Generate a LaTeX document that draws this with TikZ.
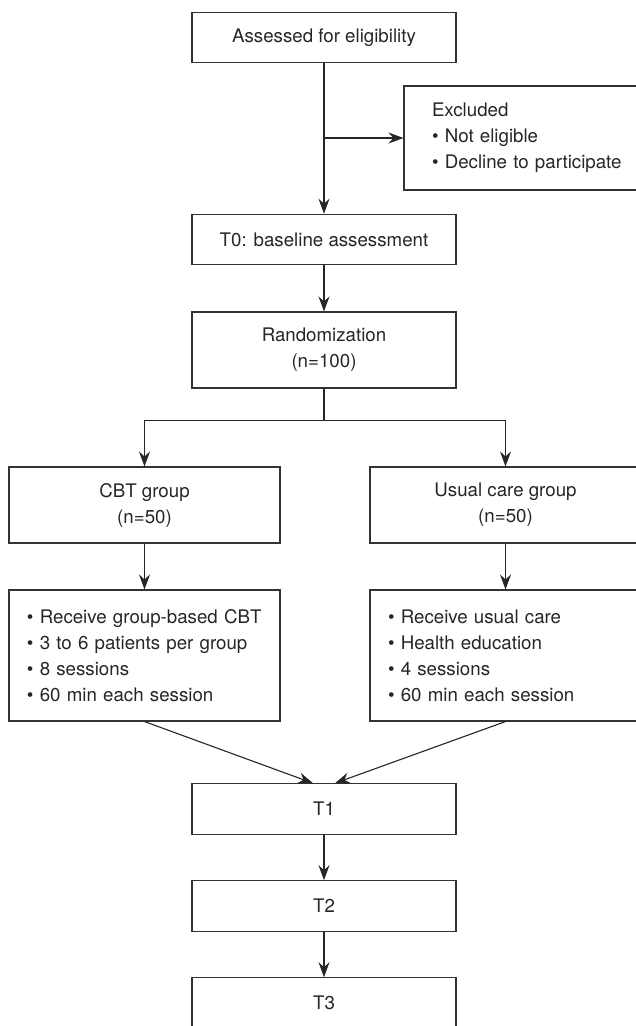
\documentclass[tikz,border=0pt]{standalone}
\usepackage{fontspec}
\setmainfont{TeX Gyre Heros}
\usetikzlibrary{arrows.meta, positioning}

\begin{document}
\begin{tikzpicture}[node distance=97pt, x=1pt, y=1pt]
			\tikzstyle{stage}=[
			rectangle, draw=black!80, line width=1.1pt, text=black!85,
			minimum width=264pt, minimum height=50.5pt,
			font=\fontsize{18.7}{26}\selectfont, align=center
			]
			\tikzstyle{group}=[stage, minimum width=271pt, minimum height=76pt]
			\tikzstyle{items}=[stage, align=left, inner sep=18pt, text width=235pt, minimum height=131pt]
			\tikzstyle{arr}=[draw=black!85, line width=1.1pt, -{Stealth[length=15pt, width=11pt, inset=5pt]}]
			
			\useasboundingbox (0,0) rectangle (636,-1026);
			
			\node[stage] (ae) at (324,-37.5) {Assessed for eligibility};
			\node[items, inner sep=16pt, text width=208pt, minimum height=104pt] (ex) at (536,-138) {Excluded\\\textbullet\ Not eligible\\\textbullet\ Decline to participate};
			\node[stage, below of=ae, yshift=-105pt] (t0) {T0: baseline assessment};
			\node[stage, below of=t0, yshift=-13.5pt, minimum height=76pt] (rand) {Randomization\\(n=100)};
			\node[group, below of=rand, xshift=-179.5pt, yshift=-58pt] (cbt) {CBT group\\(n=50)};
			\node[group, below of=rand, xshift=181.5pt, yshift=-58pt] (ucg) {Usual care group\\(n=50)};
			\node[items, below of=cbt, yshift=-53.5pt] (cbtlist) {\textbullet\ Receive group-based CBT\\\textbullet\ 3 to 6 patients per group\\\textbullet\ 8 sessions\\\textbullet\ 60 min each session};
			\node[items, below of=ucg, yshift=-53.5pt] (ucglist) {\textbullet\ Receive usual care\\\textbullet\ Health education\\\textbullet\ 4 sessions\\\textbullet\ 60 min each session};
			\node[stage, below of=cbtlist, xshift=179.5pt, yshift=-56.5pt] (t1) {T1};
			\node[stage, below of=t1] (t2) {T2};
			\node[stage, below of=t2] (t3) {T3};
			
			\coordinate (excl) at (ae.south |- ex.west);
			
			\draw[arr] (ae) -- (t0);
			\draw[arr] (excl) -- (ex);
			\draw[arr] (t0) -- (rand);
			\draw[arr] (rand.south) -- ++(0,-32) -| (cbt.north);
			\draw[arr] (rand.south) -- ++(0,-32) -| (ucg.north);
			\draw[arr] (cbt) -- (cbtlist);
			\draw[arr] (ucg) -- (ucglist);
			\draw[arr] (cbtlist.south) -- ([xshift=-11pt]t1.north);
			\draw[arr] (ucglist.south) -- ([xshift=11pt]t1.north);
			\draw[arr] (t1) -- (t2);
			\draw[arr] (t2) -- (t3);
		\end{tikzpicture}
\end{document}
